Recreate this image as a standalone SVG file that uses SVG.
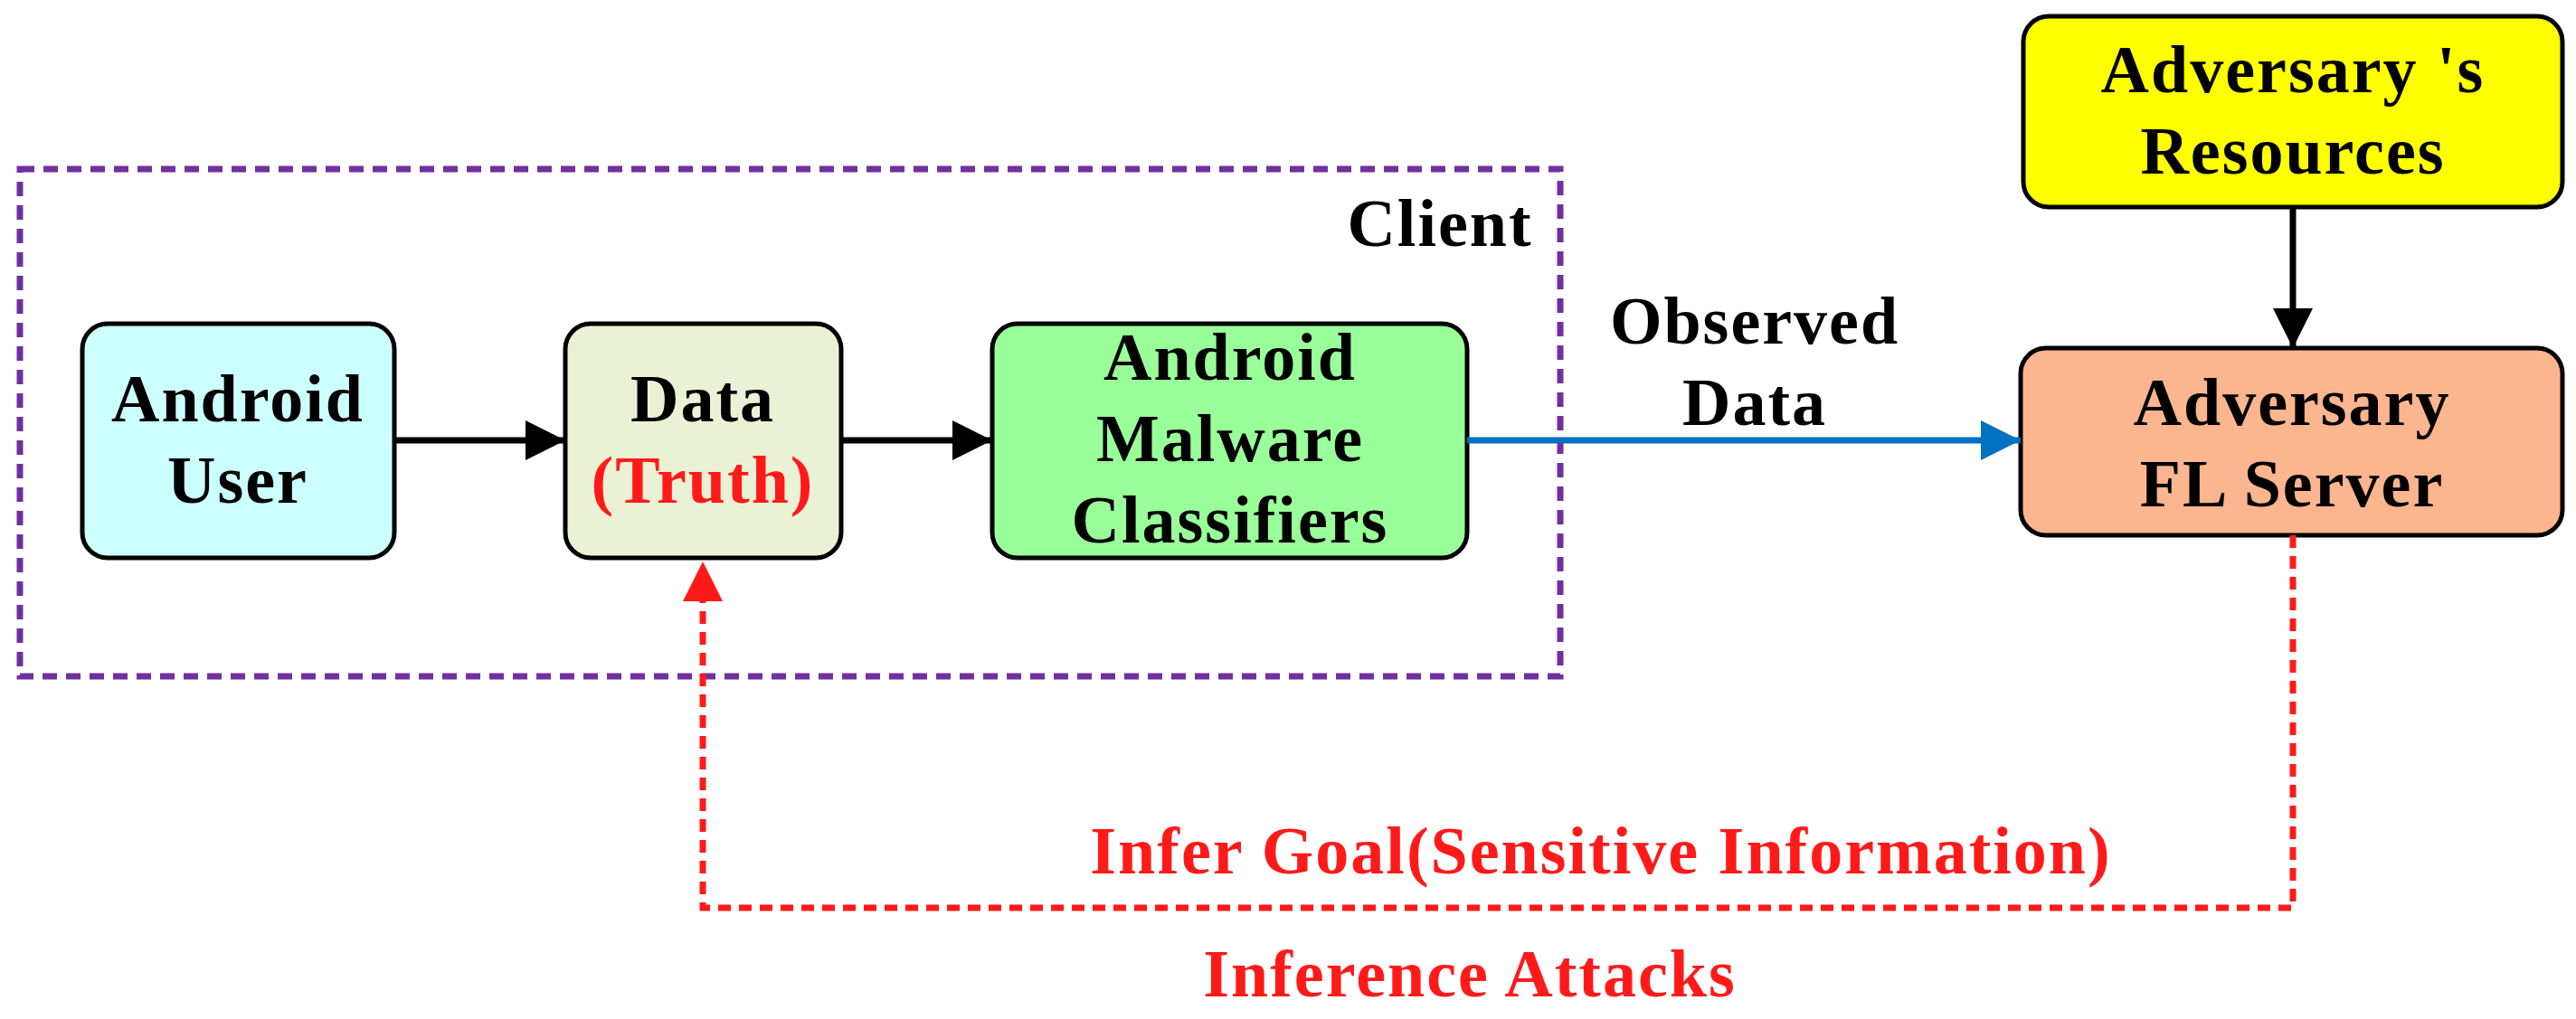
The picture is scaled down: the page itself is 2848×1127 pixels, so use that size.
<svg xmlns="http://www.w3.org/2000/svg" width="2848" height="1127" viewBox="0 0 2848 1127">
<style>
text{font-family:"Liberation Serif","DejaVu Serif",serif;font-weight:bold;font-size:74px;letter-spacing:2px;text-anchor:middle}
.box{stroke:#000;stroke-width:5}
.red{fill:#ff1a1a}
</style>
<defs>
<marker id="ab" viewBox="0 0 10 10" refX="10" refY="5" markerWidth="44" markerHeight="44" orient="auto" markerUnits="userSpaceOnUse"><path d="M0,0 L10,5 L0,10 z" fill="#0070c0"/></marker>
<marker id="a2" viewBox="0 0 10 10" refX="10" refY="5" markerWidth="44" markerHeight="44" orient="auto" markerUnits="userSpaceOnUse"><path d="M0,0 L10,5 L0,10 z" fill="#000"/></marker>
<marker id="ar" viewBox="0 0 10 10" refX="10" refY="5" markerWidth="44" markerHeight="44" orient="auto" markerUnits="userSpaceOnUse"><path d="M0,0 L10,5 L0,10 z" fill="#ff1a1a"/></marker>
</defs>
<rect width="2848" height="1127" fill="#fff"/>
<g id="client"><rect x="22" y="187" width="1703" height="561" fill="none" stroke="#7030a0" stroke-width="7" stroke-dasharray="16,10"/>
<text x="1592" y="272">Client</text></g>
<g id="user"><rect class="box" x="91" y="358" width="345" height="259" rx="28" fill="#ccffff"/><text x="263" y="466">Android</text><text x="263" y="556">User</text></g>
<g id="data"><rect class="box" x="625" y="358" width="305" height="259" rx="28" fill="#ebf1d5"/><text x="777" y="466">Data</text><text x="777" y="556" class="red">(Truth)</text></g>
<g id="clf"><rect class="box" x="1097" y="358" width="525" height="259" rx="28" fill="#99ff99"/><text x="1360" y="420">Android</text><text x="1360" y="510">Malware</text><text x="1360" y="600">Classifiers</text></g>
<g id="server"><rect class="box" x="2234" y="385" width="599" height="207" rx="28" fill="#fbb58f"/><text x="2534" y="470">Adversary</text><text x="2534" y="560">FL Server</text></g>
<g id="res"><rect class="box" x="2237" y="18" width="596" height="211" rx="28" fill="#ffff00"/><text x="2535" y="102">Adversary 's</text><text x="2535" y="192">Resources</text></g>
<g id="connectors">
<line x1="436" y1="487" x2="625" y2="487" stroke="#000" stroke-width="7" marker-end="url(#a2)"/>
<line x1="930" y1="487" x2="1097" y2="487" stroke="#000" stroke-width="7" marker-end="url(#a2)"/>
<line x1="1622" y1="487" x2="2234" y2="487" stroke="#0070c0" stroke-width="7" marker-end="url(#ab)"/>
<line x1="2535" y1="229" x2="2535" y2="385" stroke="#000" stroke-width="7" marker-end="url(#a2)"/>
<polyline points="2535,592 2535,1004 777,1004 777,621" fill="none" stroke="#ff1a1a" stroke-width="7" stroke-dasharray="14,9" marker-end="url(#ar)"/>
<text x="1940" y="380">Observed</text><text x="1940" y="470">Data</text>
<text x="1770" y="966" class="red">Infer Goal(Sensitive Information)</text>
<text x="1625" y="1102" class="red">Inference Attacks</text>
</g>
</svg>
